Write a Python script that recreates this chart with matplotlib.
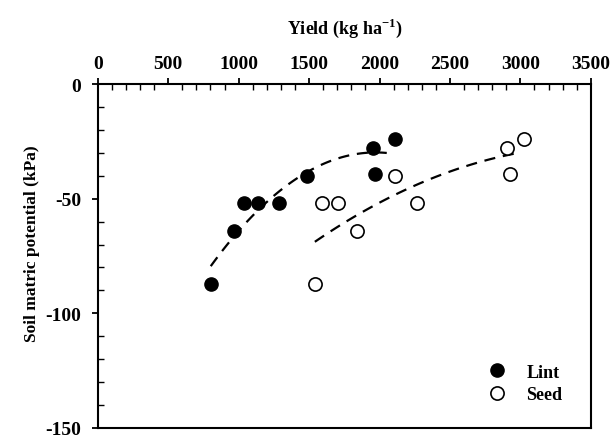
import numpy as np
import matplotlib.pyplot as plt
from matplotlib.ticker import MultipleLocator

plt.rcParams['font.family'] = 'Liberation Serif'
plt.rcParams['font.weight'] = 'bold'
plt.rcParams['axes.unicode_minus'] = False
plt.rcParams['mathtext.fontset'] = 'custom'
plt.rcParams['mathtext.bf'] = 'Liberation Serif:bold'
plt.rcParams['mathtext.rm'] = 'Liberation Serif:bold'

# donnees
lint_x = [802, 966, 1037, 1136, 1285, 1484, 1953, 1967, 2109]
lint_y = [-87, -64, -52, -52, -52, -40, -28, -39, -24]
seed_x = [1541, 1593, 1707, 1842, 2109, 2266, 2903, 2926, 3028]
seed_y = [-87, -52, -52, -64, -40, -52, -28, -39, -24]

fig = plt.figure(figsize=(6.11, 4.39), dpi=100)
ax = fig.add_axes([0.160, 0.023, 0.807, 0.783])

ax.plot(lint_x, lint_y, 'o', color='black', ms=9.5, label='Lint', zorder=3)
ax.plot(seed_x, seed_y, 'o', mfc='white', mec='black', mew=1.2, ms=9.5,
        label='Seed', zorder=3)

# courbes de tendance (polynome d'ordre 2)
for xs, ys in [(lint_x, lint_y), (seed_x, seed_y)]:
    c = np.polyfit(xs, ys, 2)
    xf = np.linspace(min(xs), max(xs) - 30, 100)
    ax.plot(xf, np.polyval(c, xf), '--', color='black', lw=1.6,
            dashes=(5, 3.5), zorder=2)

ax.set_xlim(0, 3500)
ax.set_ylim(-150, 0)
ax.xaxis.set_ticks_position('top')
ax.xaxis.set_label_position('top')
ax.xaxis.set_major_locator(MultipleLocator(500))
ax.xaxis.set_minor_locator(MultipleLocator(100))
ax.yaxis.set_major_locator(MultipleLocator(50))
ax.yaxis.set_minor_locator(MultipleLocator(10))
ax.tick_params(which='major', direction='out', length=4, width=1.3,
               labelsize=14, pad=5)
ax.tick_params(axis='y', which='major', pad=8)
ax.tick_params(which='minor', direction='in', length=4, width=1)
for s in ax.spines.values():
    s.set_linewidth(1.5)

ax.set_xlabel('Yield (kg ha$^{\\mathbf{-1}}$)', fontsize=13,
              fontweight='bold', labelpad=16)
ax.set_ylabel('Soil matric potential (kPa)', fontsize=12.5,
              fontweight='bold')
ax.yaxis.set_label_coords(-0.118, 0.54)

ax.legend(loc='lower right', frameon=False, fontsize=13,
          bbox_to_anchor=(0.975, 0.025), handletextpad=1.1, labelspacing=0.3,
          handlelength=1.0)

plt.savefig('out.png', dpi=100)
